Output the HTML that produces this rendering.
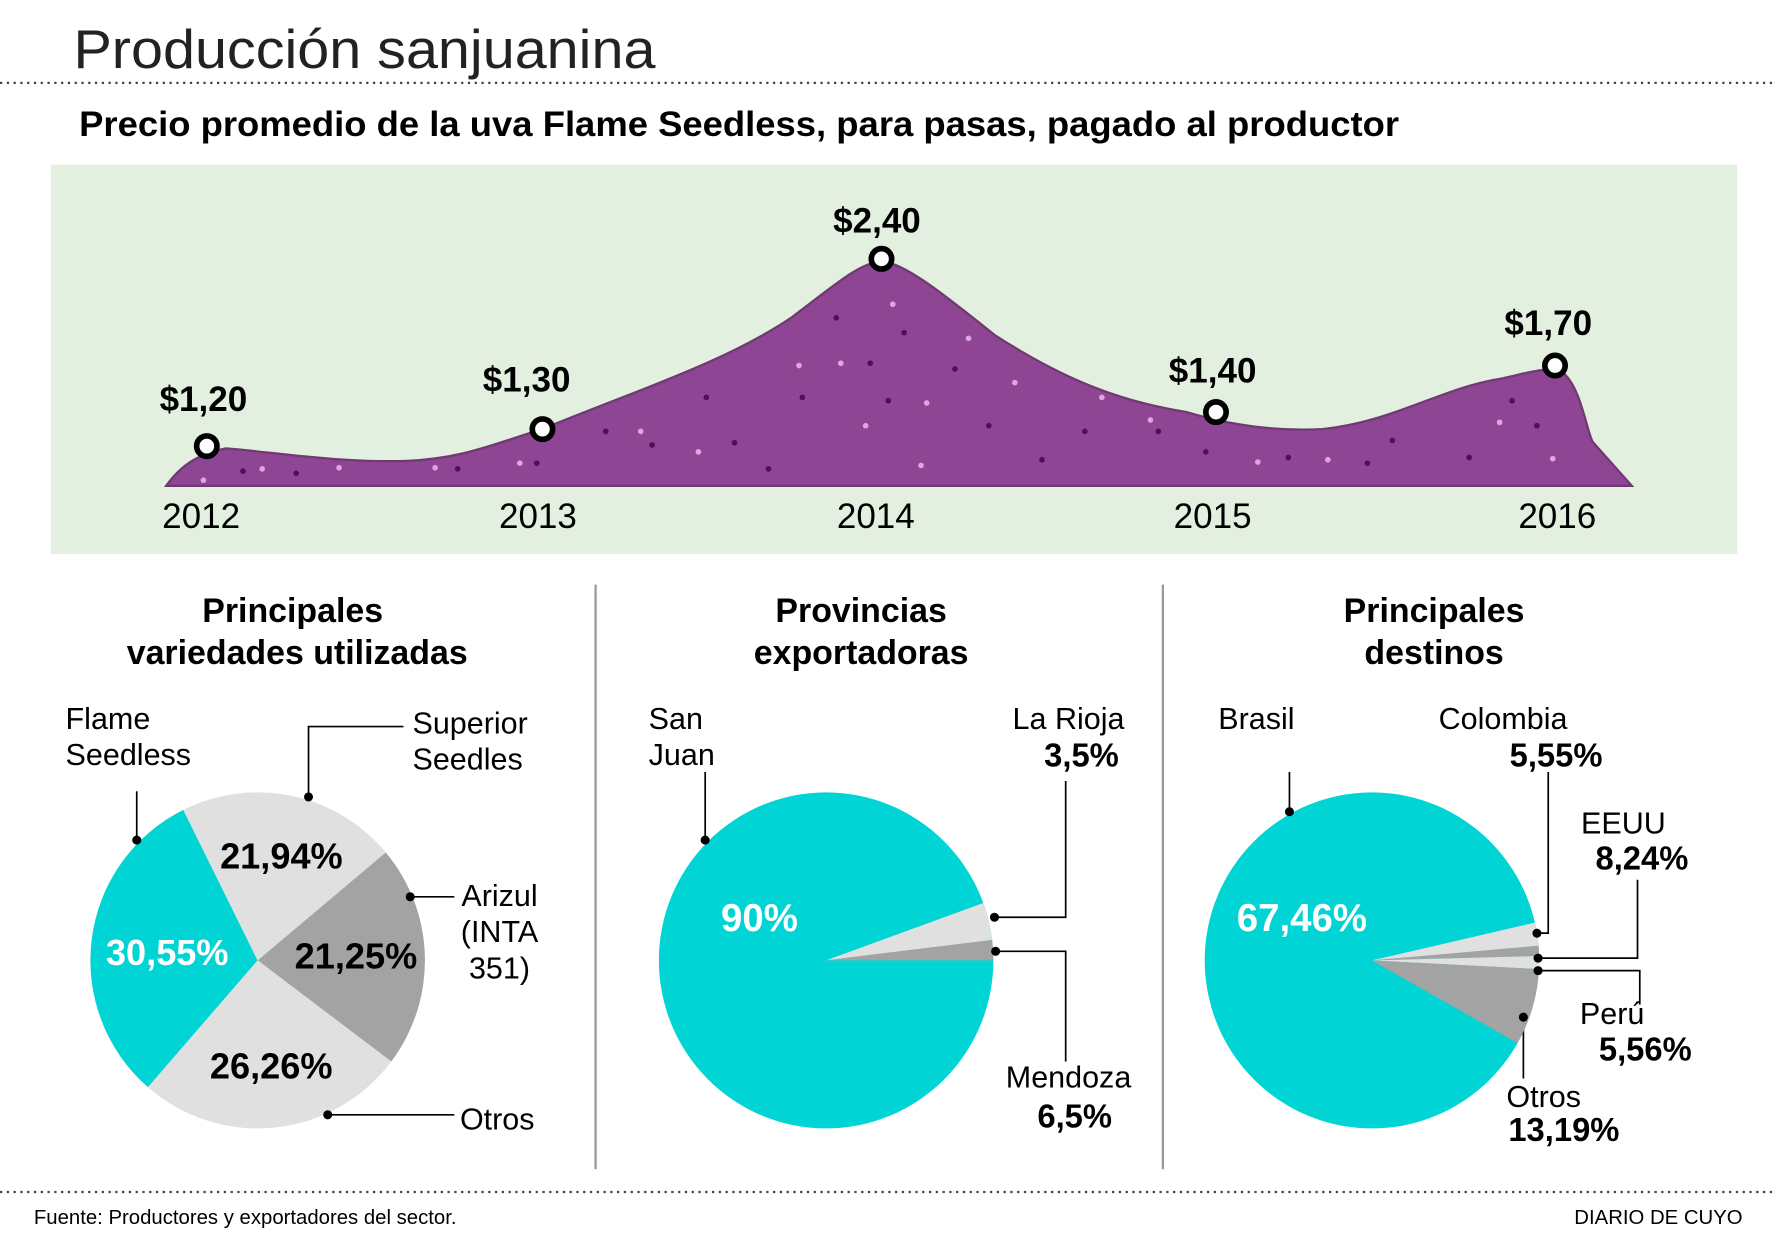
<!DOCTYPE html>
<html><head><meta charset="utf-8"><style>
html,body{margin:0;padding:0;background:#fff;}
svg{display:block;}
text{font-family:"Liberation Sans Narrow","Liberation Sans",sans-serif;}
.b{font-weight:bold;}
</style></head><body>
<svg width="1772" height="1234" viewBox="0 0 1568 1087" preserveAspectRatio="none" xmlns="http://www.w3.org/2000/svg">
<rect width="1568" height="1087" fill="#fff"/>
<text x="65" y="60" font-size="48" textLength="515" lengthAdjust="spacingAndGlyphs" fill="#222">Producción sanjuanina</text>
<line x1="0" y1="73" x2="1568" y2="73" stroke="#444" stroke-width="2" stroke-dasharray="2,4"/>
<text x="70" y="120" font-size="31" class="b" textLength="1168" lengthAdjust="spacingAndGlyphs">Precio promedio de la uva Flame Seedless, para pasas, pagado al productor</text>
<rect x="45" y="145" width="1492" height="343" fill="#e3f0e0"/>
<path d="M147,428 C160,410 175,400 200,395 C240,398 300,408 360,406 C410,404 440,390 480,378 C560,345 640,320 700,280 C740,250 760,232 780,230 C800,232 830,255 880,295 C950,340 1000,355 1050,363 C1090,375 1130,380 1170,378 C1230,372 1270,345 1320,335 C1350,330 1370,320 1385,330 C1400,345 1405,385 1410,390 L1444,428 Z" fill="#8e4593" stroke="#6f3a72" stroke-width="2"/>
<g fill="#5a0a5e">
<circle cx="215" cy="415" r="2.5"/><circle cx="262" cy="417" r="2.5"/><circle cx="405" cy="413" r="2.5"/><circle cx="475" cy="408" r="2.5"/><circle cx="536" cy="380" r="2.5"/><circle cx="577" cy="392" r="2.5"/><circle cx="650" cy="390" r="2.5"/><circle cx="680" cy="413" r="2.5"/><circle cx="710" cy="350" r="2.5"/><circle cx="770" cy="320" r="2.5"/><circle cx="786" cy="353" r="2.5"/><circle cx="800" cy="293" r="2.5"/><circle cx="845" cy="325" r="2.5"/><circle cx="875" cy="375" r="2.5"/><circle cx="922" cy="405" r="2.5"/><circle cx="960" cy="380" r="2.5"/><circle cx="1025" cy="380" r="2.5"/><circle cx="1067" cy="398" r="2.5"/><circle cx="1140" cy="403" r="2.5"/><circle cx="1210" cy="408" r="2.5"/><circle cx="1232" cy="388" r="2.5"/><circle cx="1300" cy="403" r="2.5"/><circle cx="1338" cy="353" r="2.5"/><circle cx="1360" cy="375" r="2.5"/><circle cx="740" cy="280" r="2.5"/><circle cx="625" cy="350" r="2.5"/></g>
<g fill="#dba7e0">
<circle cx="180" cy="423" r="2.5"/><circle cx="232" cy="413" r="2.5"/><circle cx="300" cy="412" r="2.5"/><circle cx="385" cy="412" r="2.5"/><circle cx="460" cy="408" r="2.5"/><circle cx="567" cy="380" r="2.5"/><circle cx="618" cy="398" r="2.5"/><circle cx="707" cy="322" r="2.5"/><circle cx="744" cy="320" r="2.5"/><circle cx="766" cy="375" r="2.5"/><circle cx="820" cy="355" r="2.5"/><circle cx="857" cy="298" r="2.5"/><circle cx="898" cy="337" r="2.5"/><circle cx="975" cy="350" r="2.5"/><circle cx="1018" cy="370" r="2.5"/><circle cx="1113" cy="407" r="2.5"/><circle cx="1175" cy="405" r="2.5"/><circle cx="1327" cy="372" r="2.5"/><circle cx="1374" cy="404" r="2.5"/><circle cx="790" cy="268" r="2.5"/><circle cx="815" cy="410" r="2.5"/></g>
<g fill="#fff" stroke="#000" stroke-width="5">
<circle cx="183" cy="393" r="9"/><circle cx="480" cy="378" r="9"/><circle cx="780" cy="228" r="9"/><circle cx="1076" cy="363" r="9"/><circle cx="1376" cy="322" r="9"/></g>
<g font-size="31" class="b" text-anchor="middle">
<text x="180" y="362">$1,20</text><text x="466" y="345">$1,30</text><text x="776" y="205">$2,40</text><text x="1073" y="337">$1,40</text><text x="1370" y="295">$1,70</text></g>
<g font-size="31" text-anchor="middle">
<text x="178" y="465">2012</text><text x="476" y="465">2013</text><text x="775" y="465">2014</text><text x="1073" y="465">2015</text><text x="1378" y="465">2016</text></g>
<line x1="527" y1="515" x2="527" y2="1030" stroke="#999" stroke-width="2"/>
<line x1="1029" y1="515" x2="1029" y2="1030" stroke="#999" stroke-width="2"/>
<g font-size="30" class="b" text-anchor="middle">
<text x="259" y="548">Principales</text><text x="263" y="585">variedades utilizadas</text>
<text x="762" y="548">Provincias</text><text x="762" y="585">exportadoras</text>
<text x="1269" y="548">Principales</text><text x="1269" y="585">destinos</text></g>
<!-- pie 1 -->
<path d="M228,846 L130.9,957.7 A148,148 0 0 1 162.2,713.4 Z" fill="#00d4d4"/>
<path d="M228,846 L162.2,713.4 A148,148 0 0 1 341.4,750.9 Z" fill="#e0e0e0"/>
<path d="M228,846 L341.4,750.9 A148,148 0 0 1 346.2,935.1 Z" fill="#a3a3a3"/>
<path d="M228,846 L346.2,935.1 A148,148 0 0 1 130.9,957.7 Z" fill="#e0e0e0"/>
<g font-size="32" class="b" text-anchor="middle">
<text x="249" y="765">21,94%</text><text x="315" y="853">21,25%</text><text x="240" y="950">26,26%</text><text x="148" y="850" fill="#fff">30,55%</text></g>
<g stroke="#000" stroke-width="1.5" fill="none">
<path d="M121,697 V740"/><path d="M357,640 H273 V702"/><path d="M363,790 H402"/><path d="M290,982 H402"/>
<path d="M624,680 V740"/><path d="M880,808 H943 V688"/><path d="M881,838 H943 V935"/>
<path d="M1141,680 V715"/><path d="M1360,822 H1370 V680"/><path d="M1361,844 H1449 V775"/><path d="M1361,855 H1451 V885"/><path d="M1348,896 V950"/></g>
<g fill="#000"><circle cx="121" cy="740" r="4"/><circle cx="273" cy="702" r="4"/><circle cx="363" cy="790" r="4"/><circle cx="290" cy="982" r="4"/></g>
<g font-size="27">
<text x="58" y="642">Flame</text><text x="58" y="674">Seedless</text>
<text x="365" y="646">Superior</text><text x="365" y="678">Seedles</text>
<text x="442" y="798" text-anchor="middle">Arizul</text><text x="442" y="830" text-anchor="middle">(INTA</text><text x="442" y="862" text-anchor="middle">351)</text>
<text x="407" y="995">Otros</text>
<text x="574" y="642">San</text><text x="574" y="674">Juan</text>
<text x="896" y="642">La Rioja</text><text x="890" y="958">Mendoza</text>
<text x="1078" y="642">Brasil</text><text x="1273" y="642">Colombia</text><text x="1399" y="734">EEUU</text><text x="1398" y="902">Perú</text><text x="1333" y="975">Otros</text></g>
<g font-size="29" class="b" text-anchor="end">
<text x="990" y="675">3,5%</text><text x="984" y="993">6,5%</text><text x="1418" y="675">5,55%</text><text x="1494" y="766">8,24%</text><text x="1497" y="934">5,56%</text><text x="1433" y="1005">13,19%</text></g>
<!-- pie 2 -->
<circle cx="731" cy="846" r="148" fill="#00d4d4"/>
<path d="M731,846 L870.1,795.4 A148,148 0 0 1 877.9,828 Z" fill="#e0e0e0"/>
<path d="M731,846 L877.9,828 A148,148 0 0 1 879,846 Z" fill="#a3a3a3"/>
<circle cx="880" cy="808" r="4"/><circle cx="881" cy="838" r="4"/><circle cx="624" cy="740" r="4"/>
<text x="672" y="820" font-size="34" class="b" fill="#fff" text-anchor="middle">90%</text>
<!-- pie 3 -->
<circle cx="1214" cy="846" r="148" fill="#00d4d4"/>
<path d="M1214,846 L1358.2,812.7 A148,148 0 0 1 1361.4,833.1 Z" fill="#e0e0e0"/>
<path d="M1214,846 L1361.4,833.1 A148,148 0 0 1 1361.9,842.1 Z" fill="#a3a3a3"/>
<path d="M1214,846 L1361.9,842.1 A148,148 0 0 1 1361.8,853.7 Z" fill="#e0e0e0"/>
<path d="M1214,846 L1361.8,853.7 A148,148 0 0 1 1342.8,918.9 Z" fill="#a3a3a3"/>
<circle cx="1141" cy="715" r="4"/><circle cx="1360" cy="822" r="4"/><circle cx="1361" cy="844" r="4"/><circle cx="1361" cy="855" r="4"/><circle cx="1348" cy="896" r="4"/>
<text x="1152" y="820" font-size="34" class="b" fill="#fff" text-anchor="middle">67,46%</text>
<line x1="0" y1="1050" x2="1568" y2="1050" stroke="#444" stroke-width="2" stroke-dasharray="2,4"/>
<text x="30" y="1078" font-size="18">Fuente: Productores y exportadores del sector.</text>
<text x="1542" y="1078" font-size="18" text-anchor="end">DIARIO DE CUYO</text>
</svg>
</body></html>
